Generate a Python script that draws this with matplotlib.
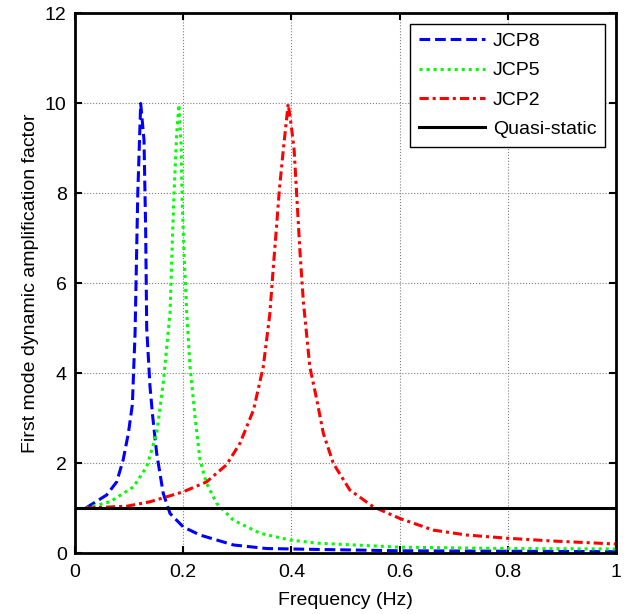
import matplotlib
matplotlib.use('Agg')
import matplotlib.pyplot as plt

plt.rcParams['font.family'] = ['Liberation Sans', 'DejaVu Sans']

# JCP8 (blue dashed)
f_jcp8 = [0.02, 0.0585, 0.077, 0.089, 0.0986, 0.106, 0.111, 0.116, 0.1214, 0.1275, 0.1306,
          0.1325, 0.1386, 0.1436, 0.151, 0.163, 0.1756, 0.2, 0.231, 0.2926, 0.354,
          0.447, 0.6, 0.8, 1.0]
daf_jcp8 = [1.0, 1.29, 1.58, 2.07, 2.66, 3.3, 4.89, 7.99, 9.99, 9.18, 7.18,
            5.0, 3.7, 3.03, 2.21, 1.33, 0.88, 0.58, 0.40, 0.18, 0.10,
            0.08, 0.05, 0.04, 0.03]

# JCP5 (green dotted)
f_jcp5 = [0.02, 0.065, 0.108, 0.1325, 0.151, 0.163, 0.1756, 0.18, 0.183, 0.188,
          0.192, 0.196, 0.198, 0.2015, 0.2065, 0.2126, 0.2218, 0.231, 0.243, 0.262,
          0.2926, 0.342, 0.397, 0.447, 0.6, 0.798, 1.0]
daf_jcp5 = [1.0, 1.14, 1.47, 1.92, 2.66, 3.77, 5.33, 6.96, 7.99, 9.33,
            9.96, 9.1, 7.84, 6.66, 5.33, 4.14, 3.03, 2.07, 1.55, 1.10,
            0.73, 0.44, 0.29, 0.22, 0.13, 0.10, 0.09]

# JCP2 (red dash-dot)
f_jcp2 = [0.02, 0.0955, 0.139, 0.1695, 0.2, 0.243, 0.28, 0.305, 0.33, 0.348,
          0.36, 0.3666, 0.3715, 0.3777, 0.385, 0.394, 0.40, 0.405, 0.411, 0.416,
          0.422, 0.434, 0.447, 0.459, 0.4775, 0.508, 0.551, 0.6, 0.662, 0.724,
          0.798, 0.878, 1.0]
daf_jcp2 = [1.0, 1.04, 1.14, 1.25, 1.36, 1.58, 1.96, 2.44, 3.18, 4.14,
            5.3, 6.36, 7.1, 8.07, 8.96, 9.98, 9.47, 8.96, 7.70, 6.66,
            5.6, 4.14, 3.4, 2.66, 1.99, 1.4, 1.03, 0.77, 0.51, 0.40,
            0.33, 0.27, 0.20]

# quasi-static
f_qs = [0.0, 1.0]
daf_qs = [1.0, 1.0]

fig = plt.figure(figsize=(6.32, 6.14), dpi=100)
ax = fig.add_axes([0.1187, 0.0993, 0.856, 0.8795])

ax.plot(f_jcp8, daf_jcp8, color='#0000ff', linestyle=(0, (3.5, 1.6)), linewidth=2.2, label='JCP8')
ax.plot(f_jcp5, daf_jcp5, color='#00ff00', linestyle=(0, (1, 1.3)), linewidth=2.2, label='JCP5')
ax.plot(f_jcp2, daf_jcp2, color='#ff0000', linestyle=(0, (3, 1.3, 1, 1.3)), linewidth=2.2, label='JCP2')
ax.plot(f_qs, daf_qs, color='black', linewidth=2.2, label='Quasi-static')

ax.set_xlim(0, 1)
ax.set_ylim(0, 12)
ax.set_xticks([0, 0.2, 0.4, 0.6, 0.8, 1])
ax.set_xticklabels(['0', '0.2', '0.4', '0.6', '0.8', '1'])
ax.set_yticks([0, 2, 4, 6, 8, 10, 12])
ax.grid(True, color='#808080', linestyle=':', linewidth=0.8)
ax.tick_params(direction='in', top=True, right=True, length=5, width=1.5, labelsize=14)
ax.tick_params(axis='x', pad=8)
ax.tick_params(axis='y', pad=6)
for s in ax.spines.values():
    s.set_linewidth(2)

ax.set_xlabel('Frequency (Hz)', fontsize=14, labelpad=8)
ax.set_ylabel('First mode dynamic amplification factor', fontsize=14, labelpad=4)

leg = ax.legend(loc='upper right', fontsize=14, handlelength=3.4, fancybox=False,
                framealpha=1, edgecolor='black', borderaxespad=0.55,
                labelspacing=0.6, borderpad=0.45, handletextpad=0.4)
leg.get_frame().set_linewidth(1)

fig.savefig('out.png', dpi=100)
